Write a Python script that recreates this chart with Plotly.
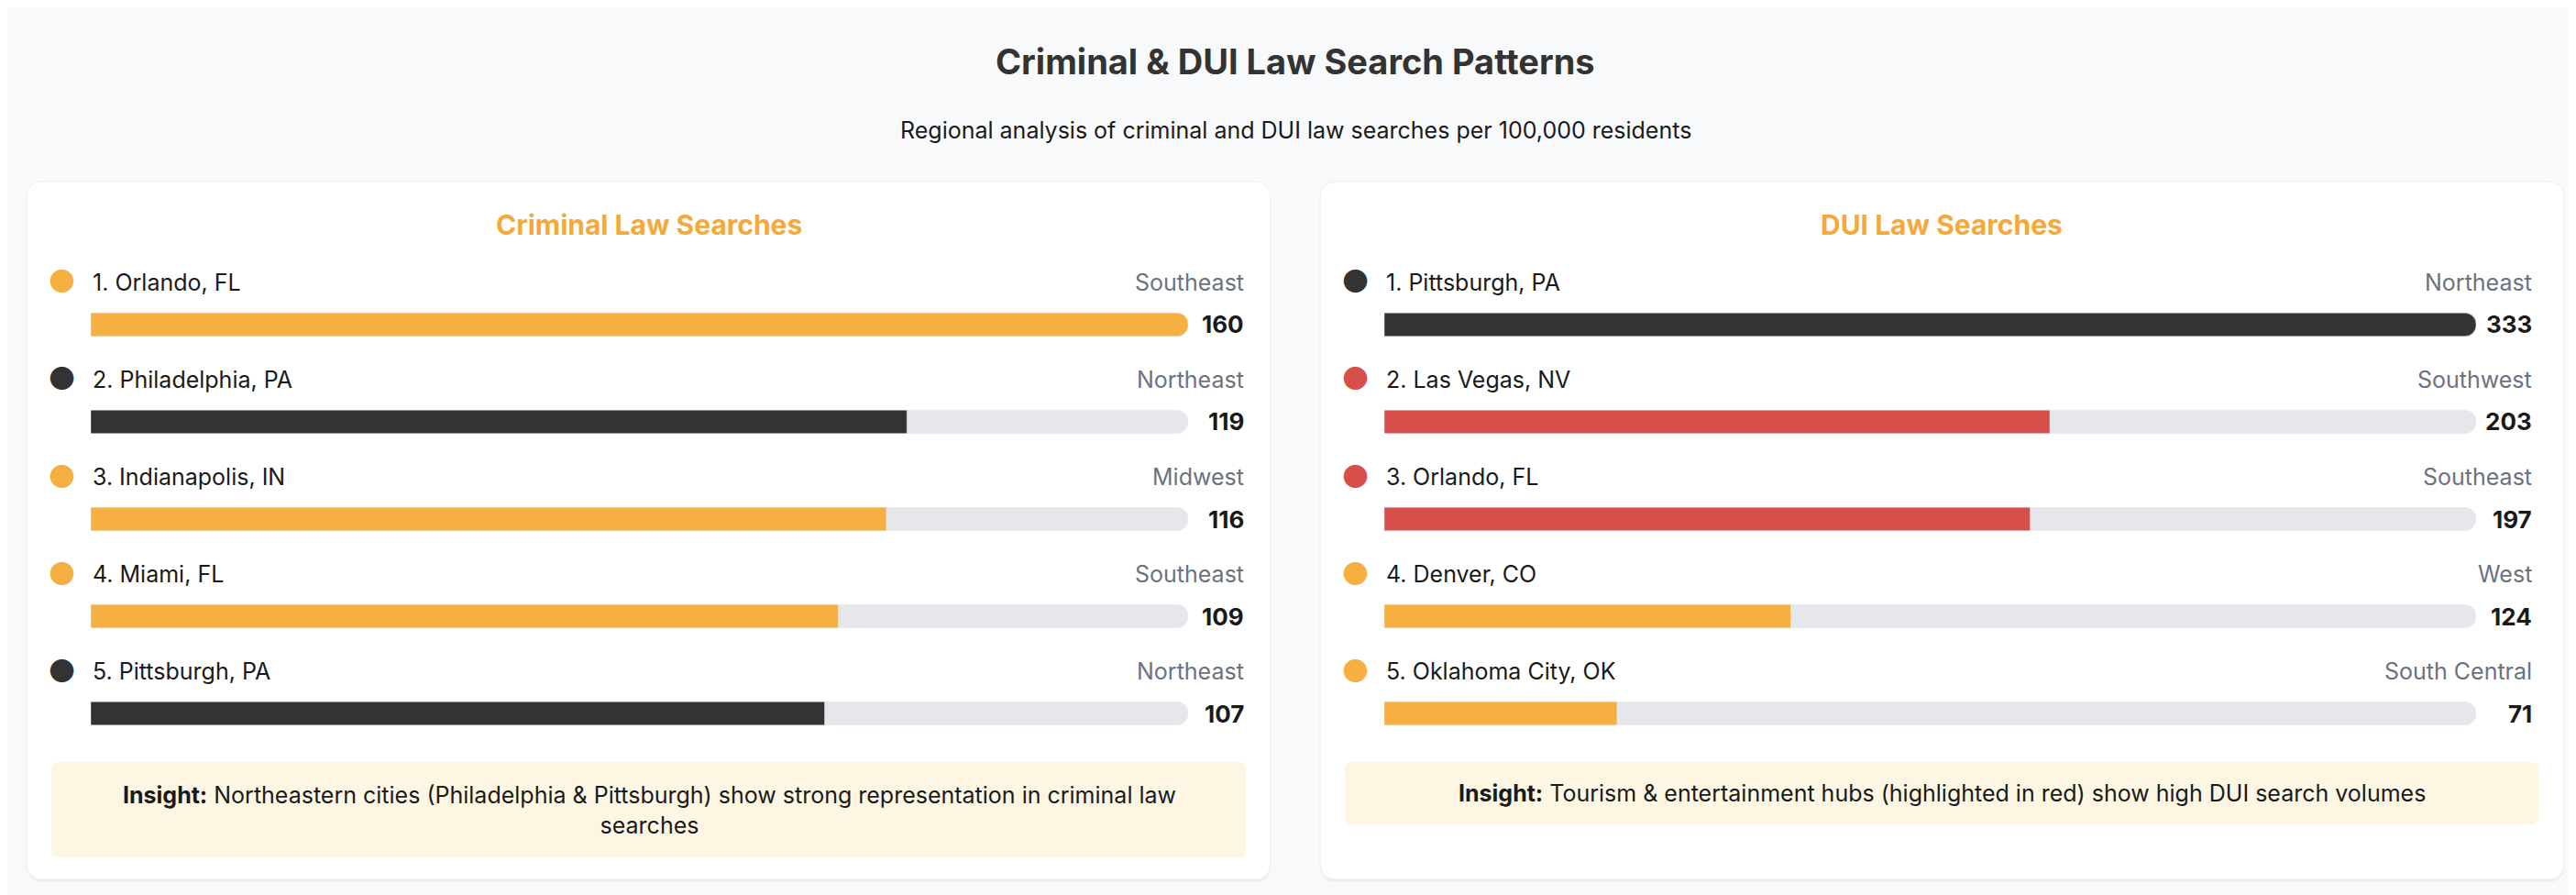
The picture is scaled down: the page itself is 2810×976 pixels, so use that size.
import plotly.graph_objects as go

W, H = 2810, 976

crim_cities = ["1. Orlando, FL", "2. Philadelphia, PA", "3. Indianapolis, IN", "4. Miami, FL", "5. Pittsburgh, PA"]
crim_regions = ["Southeast", "Northeast", "Midwest", "Southeast", "Northeast"]
crim_values = [160, 119, 116, 109, 107]
crim_colors = ["#f5b041", "#333333", "#f5b041", "#f5b041", "#333333"]

dui_cities = ["1. Pittsburgh, PA", "2. Las Vegas, NV", "3. Orlando, FL", "4. Denver, CO", "5. Oklahoma City, OK"]
dui_regions = ["Northeast", "Southwest", "Southeast", "West", "South Central"]
dui_values = [333, 203, 197, 124, 71]
dui_colors = ["#333333", "#d64f4a", "#d64f4a", "#f5b041", "#f5b041"]

TRACK = "#e5e7eb"
FONT = "Inter, Roboto, sans-serif"


def px_x(v):
    return v / W


def px_y(v):
    return 1 - v / H


def round_rect(x0, y0, x1, y1, r):
    # pixel coords (top-left origin) -> paper path
    X0, X1 = px_x(x0), px_x(x1)
    Y0, Y1 = px_y(y0), px_y(y1)
    rx, ry = r / W, r / H
    return (f"M{X0+rx},{Y0} L{X1-rx},{Y0} Q{X1},{Y0} {X1},{Y0-ry} L{X1},{Y1+ry} Q{X1},{Y1} {X1-rx},{Y1} "
            f"L{X0+rx},{Y1} Q{X0},{Y1} {X0},{Y1+ry} L{X0},{Y0-ry} Q{X0},{Y0} {X0+rx},{Y0} Z")


fig = go.Figure()
ranks = list(range(5))

panels = [
    (crim_cities, crim_regions, crim_values, crim_colors, "x", "y"),
    (dui_cities, dui_regions, dui_values, dui_colors, "x2", "y2"),
]

annotations = []
for cities, regions, values, colors, xa, ya in panels:
    mx = max(values)
    fig.add_trace(go.Bar(x=[mx] * 5, y=ranks, orientation="h", marker=dict(color=TRACK, cornerradius=12),
                         width=0.24, xaxis=xa, yaxis=ya, hoverinfo="skip", showlegend=False))
    fig.add_trace(go.Bar(x=values, y=ranks, orientation="h", marker=dict(color=colors, cornerradius=12),
                         width=0.24, xaxis=xa, yaxis=ya, showlegend=False,
                         hovertemplate="%{x}<extra></extra>"))
    for i in ranks:
        annotations.append(dict(x=0, y=i, xref=xa, yref=ya, text="●", showarrow=False, xanchor="center",
                                xshift=-32, yshift=47, font=dict(size=34, color=colors[i], family=FONT)))
        annotations.append(dict(x=0, y=i, xref=xa, yref=ya, text=cities[i], showarrow=False, xanchor="left",
                                yshift=46, font=dict(size=25, color="#1a1a1a", family=FONT)))
        annotations.append(dict(x=mx, y=i, xref=xa, yref=ya, text=regions[i], showarrow=False, xanchor="right",
                                xshift=63, yshift=46, font=dict(size=25, color="#6b7280", family=FONT)))
        annotations.append(dict(x=mx, y=i, xref=xa, yref=ya, text=f"<b>{values[i]}</b>", showarrow=False,
                                xanchor="right", xshift=63, font=dict(size=26, color="#1a1a1a", family=FONT)))

shapes = []
for x0, x1 in [(21, 1378), (1432, 2789)]:
    shapes.append(dict(type="path", xref="paper", yref="paper", path=round_rect(x0, 192, x1, 954, 18),
                       fillcolor="rgba(0,0,0,0.04)", line=dict(width=0), layer="below"))
    shapes.append(dict(type="path", xref="paper", yref="paper", path=round_rect(x0, 190, x1, 951, 18),
                       fillcolor="white", line=dict(color="#eceef1", width=1), layer="below"))
shapes.append(dict(type="path", xref="paper", yref="paper", path=round_rect(48, 823, 1351, 927, 8),
                   fillcolor="#fdf6e3", line=dict(width=0), layer="below"))
shapes.append(dict(type="path", xref="paper", yref="paper", path=round_rect(1459, 823, 2761, 891, 8),
                   fillcolor="#fdf6e3", line=dict(width=0), layer="below"))

texts = [
    (1405, 59, "<b>Criminal & DUI Law Search Patterns</b>", 38, "#333333"),
    (1405, 134, "Regional analysis of criminal and DUI law searches per 100,000 residents", 25, "#1a1a1a"),
    (700, 237, "<b>Criminal Law Searches</b>", 30, "#f5a93a"),
    (2110, 237, "<b>DUI Law Searches</b>", 30, "#f5a93a"),
    (700, 875, "<b>Insight:</b> Northeastern cities (Philadelphia & Pittsburgh) show strong representation in criminal law<br>searches", 25, "#1a1a1a"),
    (2110, 857, "<b>Insight:</b> Tourism & entertainment hubs (highlighted in red) show high DUI search volumes", 25, "#1a1a1a"),
]
for x, y, t, s, c in texts:
    annotations.append(dict(x=px_x(x), y=px_y(y), xref="paper", yref="paper", text=t, showarrow=False,
                            xanchor="center", yanchor="middle", font=dict(size=s, color=c, family=FONT)))

ytop, ybot = px_y(293), px_y(823)
axis_off = dict(showgrid=False, zeroline=False, showticklabels=False, fixedrange=True)
fig.update_layout(
    width=W, height=H, margin=dict(l=0, r=0, t=0, b=0),
    paper_bgcolor="#f8f9fa", plot_bgcolor="rgba(0,0,0,0)",
    barmode="overlay", font=dict(family=FONT),
    xaxis=dict(domain=[px_x(91), px_x(1288)], range=[0, max(crim_values)], **axis_off),
    yaxis=dict(domain=[ybot, ytop], range=[4.5, -0.5], **axis_off),
    xaxis2=dict(domain=[px_x(1502), px_x(2693)], range=[0, max(dui_values)], anchor="y2", **axis_off),
    yaxis2=dict(domain=[ybot, ytop], range=[4.5, -0.5], anchor="x2", **axis_off),
    shapes=shapes, annotations=annotations,
)

fig.write_html("out.html")
